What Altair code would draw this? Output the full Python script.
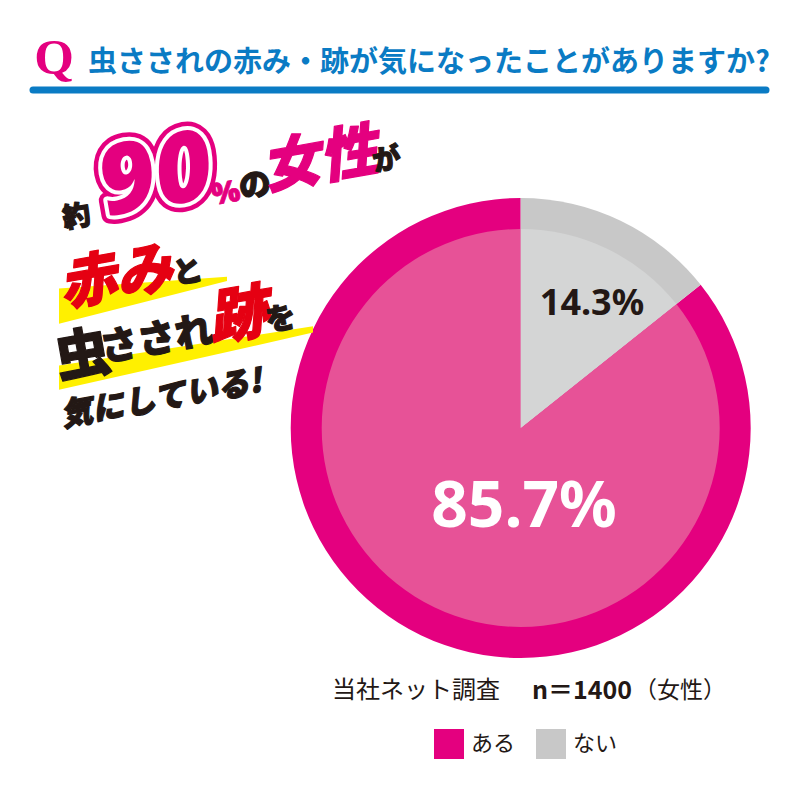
import altair as alt
import pandas as pd

# ---- data ----
categories = ["ある", "ない"]
shares = [85.7, 14.3]
outer_colors = ["#E4007F", "#C8C8C8"]
inner_colors = ["#E75297", "#D4D5D5"]

title_q = "Q"
title_text = "虫さされの赤み・跡が気になったことがありますか?"
survey_note = "当社ネット調査"
sample_note = "n＝1400"
sample_group = "（女性）"

df = pd.DataFrame({"cat": categories, "share": shares})

JP = "Noto Sans CJK JP"
LAT = "Noto Sans"
BLACK = "#231815"
MAG = "#E4007F"
RED = "#E50012"
YEL = "#FFF000"
OFF = 8  # page margin
CX, CY = 520.7 - OFF, 428 - OFF

one = pd.DataFrame({"a": [0]})


def txt(s, x, y, size, fill, weight="bold", font=JP, angle=None, align="center",
        baseline="middle", stroke=None, sw=None, style=None):
    kw = dict(text=s, fontSize=size, fill=fill, font=font, fontWeight=weight,
              align=align, baseline=baseline)
    if angle is not None:
        kw["angle"] = angle
    if stroke is not None:
        kw["stroke"] = stroke
        kw["strokeWidth"] = sw
        kw["strokeJoin"] = "round"
    if style is not None:
        kw["fontStyle"] = style
    return alt.Chart(one).mark_text(**kw).encode(x=alt.value(x - OFF), y=alt.value(y - OFF))


def heavy(s, x, y, size, fill, style=None, font=JP, sw=1.2):
    return txt(s, x, y, size, fill, weight=900, font=font, angle=350, style=style,
               stroke=fill, sw=sw)


def wedge(path, x, y, span):
    return alt.Chart(one).mark_point(shape=path, size=span * span, filled=True,
                                     fill=YEL, opacity=1, strokeWidth=0).encode(
        x=alt.value(x - OFF), y=alt.value(y - OFF))


theta = alt.Theta("share:Q", stack=True)
order = alt.Order("cat:N", sort="descending")

outer = alt.Chart(df).mark_arc(outerRadius=230).encode(
    theta=theta,
    order=order,
    color=alt.Color("cat:N", scale=alt.Scale(domain=categories, range=outer_colors),
                    legend=alt.Legend(title=None)),
    x=alt.value(CX), y=alt.value(CY),
)
inner = alt.Chart(df).mark_arc(outerRadius=199).encode(
    theta=theta,
    order=order,
    color=alt.Color("cat:N", scale=alt.Scale(domain=categories, range=inner_colors),
                    legend=None),
    x=alt.value(CX), y=alt.value(CY),
)

lab_big = alt.Chart(df).transform_filter(alt.datum.cat == "ある").transform_calculate(
    lbl=alt.expr.format(alt.datum.share, ".1f") + "%"
).mark_text(font=LAT, fontWeight="bold", fontSize=64, fill="white",
            align="center", baseline="middle").encode(
    text="lbl:N", x=alt.value(524 - OFF), y=alt.value(508 - OFF))
lab_small = alt.Chart(df).transform_filter(alt.datum.cat == "ない").transform_calculate(
    lbl=alt.expr.format(alt.datum.share, ".1f") + "%"
).mark_text(font=LAT, fontWeight="bold", fontSize=36, fill=BLACK,
            align="center", baseline="middle").encode(
    text="lbl:N", x=alt.value(592 - OFF), y=alt.value(304 - OFF))

# title
title_layers = [
    txt(title_q, 54, 59, 51, MAG, font="Liberation Serif"),
    txt(title_text, 88, 63, 29, "#0A7BC4", align="left"),
    alt.Chart(one).mark_rule(color="#0A7BC4", strokeWidth=7, strokeCap="round").encode(
        x=alt.value(33 - OFF), x2=alt.value(766 - OFF),
        y=alt.value(90 - OFF), y2=alt.value(90 - OFF)),
]

# yellow highlight bands (decoration)
bands = [
    wedge("M -1 -0.09 L 1 -0.23 L 1 -0.18 L -1 0.33 Z", 143, 296, 168),
    wedge("M -1 0.06 L 1 -0.25 L 1 -0.2 L -1 0.25 Z", 186, 358, 254),
]

A = 350
catch = [
    heavy("約", 77, 218, 28, BLACK),
    txt("90", 156, 178, 98, MAG, weight=900, font=LAT, angle=A, style="italic",
        stroke=MAG, sw=17),
    txt("90", 156, 178, 98, MAG, weight=900, font=LAT, angle=A, style="italic",
        stroke="white", sw=8),
    txt("90", 156, 178, 98, MAG, weight=900, font=LAT, angle=A, style="italic"),
    heavy("%", 226, 194, 30, MAG, font=LAT, sw=0.8),
    heavy("の", 255, 186, 32, BLACK),
    heavy("女性", 320, 162, 58, MAG, style="italic"),
    heavy("が", 387, 161, 28, BLACK),
    heavy("赤み", 116, 279, 57, RED, style="italic"),
    heavy("と", 188, 273, 30, BLACK),
    heavy("虫", 83, 357, 55, BLACK),
    heavy("さされ", 157, 341, 38, BLACK),
    heavy("跡", 238, 318, 60, RED, style="italic"),
    heavy("を", 281, 320, 30, BLACK),
    heavy("気にしている!", 161, 399, 32, BLACK, style="italic"),
]

notes = [
    txt(survey_note, 332, 691, 24, BLACK, weight="normal", align="left"),
    txt(sample_note, 532, 691, 25, BLACK, weight="bold", align="left"),
    txt(sample_group, 634, 691, 23, BLACK, weight="normal", align="left"),
]

chart = alt.layer(
    outer, inner, lab_big, lab_small, *title_layers, *bands, *catch, *notes
).resolve_scale(color="independent").properties(
    width=784, height=784, padding=0, autosize="none"
).configure_view(stroke=None).configure_legend(
    orient="none", legendX=434 - OFF, legendY=729 - OFF, direction="horizontal",
    symbolType="square", symbolSize=900, symbolStrokeWidth=0, symbolOpacity=1,
    labelFontSize=22, labelFont=JP, labelColor=BLACK, labelOffset=7,
    columnPadding=20, padding=0, labelLimit=200,
)

chart.save("out.html", embed_options={"renderer": "svg", "actions": False})
